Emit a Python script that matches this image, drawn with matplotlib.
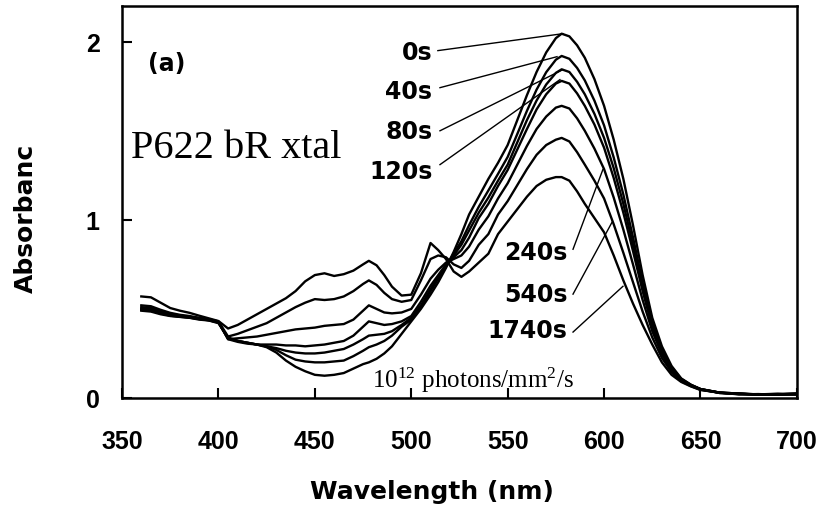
import numpy as np
import matplotlib; matplotlib.use("Agg")
import matplotlib.pyplot as plt

plt.rcParams['font.family'] = ['DejaVu Sans']

wl = [360, 365, 370, 375, 380, 385, 390, 395, 400,
      405, 410, 415, 420, 425, 430, 435, 440, 445, 450, 455, 460, 465, 470, 475,
      478, 482, 486, 490, 495, 500, 505, 510, 514, 518, 522, 526, 530,
      535, 540, 545, 550, 555, 560, 565, 570, 575,
      578, 582, 586, 590,
      595, 600, 605, 610, 615, 620, 625, 630, 635, 640, 645, 650,
      660, 670, 680, 690, 700]

a_0s = [.49, .485, .47, .46, .455, .45, .44, .435, .42,
        .34, .32, .31, .30, .285, .255, .21, .175, .15, .13, .125, .13, .14, .165, .19,
        .20, .22, .25, .29, .36, .43, .50, .58, .65, .73, .82, .92, 1.03,
        1.13, 1.23, 1.32, 1.42, 1.56, 1.70, 1.83, 1.94, 2.02,
        2.045, 2.03, 1.98, 1.91,
        1.79, 1.64, 1.45, 1.23, .97, .69, .45, .29, .18, .11, .075, .05,
        .03, .025, .02, .02, .025]
a_40s = [.495, .49, .475, .462, .456, .451, .443, .436, .423,
         .335, .32, .31, .30, .29, .27, .24, .215, .205, .20, .20, .205, .21, .235, .265,
         .285, .30, .32, .35, .40, .44, .51, .60, .67, .74, .81, .88, .97,
         1.073, 1.165, 1.258, 1.353, 1.482, 1.612, 1.731, 1.829, 1.899,
         1.92, 1.904, 1.853, 1.783,
         1.669, 1.53, 1.35, 1.142, .902, .647, .427, .276, .172, .107, .074, .05,
         .03, .022, .02, .022, .02]
a_80s = [.50, .495, .48, .465, .458, .452, .444, .437, .425,
         .335, .32, .31, .30, .29, .28, .265, .255, .25, .25, .255, .265, .275, .30, .33,
         .35, .355, .36, .375, .41, .45, .52, .61, .68, .74, .80, .86, .94,
         1.04, 1.125, 1.22, 1.31, 1.435, 1.56, 1.67, 1.76, 1.825,
         1.845, 1.83, 1.775, 1.705,
         1.595, 1.46, 1.29, 1.09, .86, .62, .41, .27, .17, .105, .072, .05,
         .028, .024, .018, .02, .025]
a_120s = [.50, .497, .482, .468, .46, .454, .446, .438, .426,
          .33, .315, .305, .30, .30, .30, .295, .295, .29, .295, .30, .31, .32, .35, .40,
          .43, .42, .41, .415, .43, .46, .54, .63, .69, .75, .79, .83, .90,
          1.01, 1.09, 1.19, 1.28, 1.395, 1.51, 1.62, 1.705, 1.765,
          1.78, 1.765, 1.71, 1.64,
          1.535, 1.405, 1.235, 1.04, .825, .60, .40, .26, .16, .10, .07, .05,
          .03, .02, .022, .018, .02]
a_240s = [.51, .505, .49, .472, .463, .456, .448, .44, .428,
          .33, .335, .34, .345, .355, .365, .375, .385, .39, .395, .405, .41, .415, .44, .49,
          .52, .50, .48, .475, .48, .50, .58, .67, .72, .76, .78, .80, .85,
          .945, 1.02, 1.12, 1.205, 1.31, 1.415, 1.51, 1.58, 1.63,
          1.64, 1.625, 1.57, 1.50,
          1.40, 1.285, 1.125, .945, .75, .55, .375, .245, .155, .10, .07, .048,
          .028, .022, .02, .024, .022]
a_540s = [.52, .515, .495, .478, .467, .46, .45, .442, .43,
          .345, .36, .38, .40, .42, .45, .48, .51, .535, .555, .55, .555, .57, .60, .64,
          .66, .635, .59, .555, .54, .55, .66, .78, .80, .79, .75, .73, .77,
          .86, .92, 1.03, 1.105, 1.195, 1.285, 1.365, 1.42, 1.45,
          1.46, 1.44, 1.38, 1.31,
          1.22, 1.12, .975, .815, .65, .485, .34, .225, .145, .095, .067, .046,
          .03, .025, .018, .02, .024]
a_1740s = [.57, .565, .535, .505, .49, .478, .462, .447, .432,
           .39, .41, .44, .47, .50, .53, .56, .60, .655, .69, .70, .685, .695, .715, .75,
           .77, .745, .69, .625, .575, .58, .70, .87, .83, .78, .71, .68, .71,
           .76, .81, .92, .99, 1.06, 1.13, 1.19, 1.225, 1.24,
           1.24, 1.22, 1.16, 1.09,
           1.01, .93, .80, .66, .53, .41, .30, .20, .13, .09, .065, .045,
           .03, .025, .02, .02, .02]

series = [a_0s, a_40s, a_80s, a_120s, a_240s, a_540s, a_1740s]
times = ["0s", "40s", "80s", "120s", "240s", "540s", "1740s"]
x_ticks = [350, 400, 450, 500, 550, 600, 650, 700]
y_ticks = [0, 1, 2]
# label text anchor (right edge, centre) and leader line end points
lab_xy = [(511, 1.944), (511, 1.725), (511, 1.496), (511, 1.277), (581, .818), (581, .583), (581, .381)]
lead = [((513.8, 1.95), (578.6, 2.045)), ((514.9, 1.742), (575.6, 1.916)),
        ((514.9, 1.50), (578.6, 1.843)), ((514.9, 1.31), (577.1, 1.787)),
        ((583.9, .835), (599.4, 1.283)), ((583.9, .583), (604.1, .986)),
        ((583.9, .37), (609.8, .627))]

fig = plt.figure(figsize=(8.19, 5.06), dpi=100)
ax = fig.add_axes([0.149, 0.2115, 0.824, 0.7745])
for a in series:
    ax.plot(wl, a, color="black", lw=1.7)
for t, (x, y), (p0, p1) in zip(times, lab_xy, lead):
    ax.text(x, y, t, ha="right", va="center", fontsize=17, fontweight="bold")
    ax.plot([p0[0], p1[0]], [p0[1], p1[1]], color="black", lw=1.0)

ax.set_xlim(350, 700); ax.set_ylim(0, 2.2)
ax.set_xticks(x_ticks)
ax.set_yticks(y_ticks)
ax.tick_params(axis="x", direction="in", length=7, width=1.5, pad=22, labelsize=18)
ax.tick_params(axis="y", direction="in", length=7, width=1.5, pad=16, labelsize=18)
for lab in ax.get_xticklabels() + ax.get_yticklabels():
    lab.set_fontweight("bold"); lab.set_family("Liberation Sans")
for s in ax.spines.values():
    s.set_linewidth(1.8)

ax.text(363.5, 1.882, "(a)", ha="left", va="center", fontsize=17, fontweight="bold")
ax.text(354.7, 1.406, "P622 bR xtal", ha="left", va="center", fontsize=29, family="Liberation Serif")
ax.text(479.6, 0.062, r"$\mathregular{10^{12}}$ photons/mm$\mathregular{^2}$/s", ha="left", va="baseline",
        fontsize=18, family="Liberation Serif")

fig.text(432/819, 1-492/506, "Wavelength (nm)", ha="center", va="center", fontsize=18, fontweight="bold")
fig.text(26/819, 1-218/506, "Absorbanc", ha="center", va="center", rotation=90, fontsize=18, fontweight="bold")

plt.savefig("out.png", dpi=100)
